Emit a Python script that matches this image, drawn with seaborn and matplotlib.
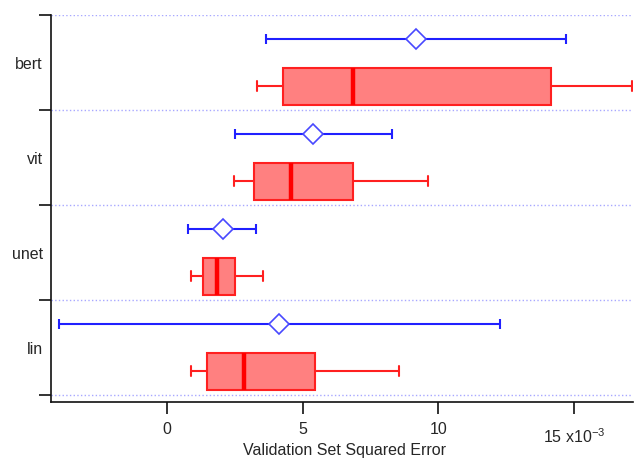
import numpy as np
import pandas as pd
import seaborn as sns
import matplotlib.pyplot as plt
import matplotlib.transforms as mtrans

# values in units of 1e-3
modelos = ["bert", "vit", "unet", "lin"]
# five number summary: whisker low, q1, median, q3, whisker high
bert_box = [3.32, 4.29, 6.87, 14.16, 17.15]
vit_box = [2.48, 3.21, 4.57, 6.87, 9.62]
unet_box = [0.88, 1.34, 1.83, 2.51, 3.55]
lin_box = [0.88, 1.49, 2.85, 5.45, 8.54]
# mean and interval (blue)
media = [9.16, 5.38, 2.05, 4.14]
int_bajo = [3.64, 2.51, 0.79, -3.99]
int_alto = [14.69, 8.28, 3.29, 12.28]
xticks = [0, 5, 10, 15]
xticklabels = ["0", "5", "10", "15 x10$^{-3}$"]

sns.set_style("ticks")
plt.rcParams['font.family'] = ['Liberation Sans', 'DejaVu Sans']
plt.rcParams['mathtext.fontset'] = 'custom'
plt.rcParams['mathtext.rm'] = 'Liberation Sans'
plt.rcParams['mathtext.it'] = 'Liberation Sans'
plt.rcParams['mathtext.default'] = 'rm'

filas = []
for i, (m, caja) in enumerate(zip(modelos, [bert_box, vit_box, unet_box, lin_box])):
    for v in caja:
        filas.append({"modelo": m, "pos": i + 0.25, "error": v})
df = pd.DataFrame(filas)

fig, ax = plt.subplots(figsize=(6.4, 4.59), dpi=100)
fig.subplots_adjust(left=0.0797, right=0.989, top=0.967, bottom=0.124)

sns.boxplot(data=df, x="error", y="pos", orient="y", native_scale=True,
            whis=(0, 100), width=0.39, saturation=1, color="#FF8080",
            linecolor="#FF2020", linewidth=1.5, capwidths=0.105,
            medianprops=dict(linewidth=3.2, color="#FF0000"), ax=ax)

pos_err = np.arange(len(modelos)) - 0.25
media = np.array(media)
xerr = [media - np.array(int_bajo), np.array(int_alto) - media]
ax.errorbar(media, pos_err, xerr=xerr, fmt="none", ecolor="#2020FF",
            elinewidth=1.5, capsize=3.3, capthick=1.5, zorder=3)
ax.plot(media, pos_err, "D", ms=10, mfc="white", mec="#4848FF", mew=1.2,
        linestyle="none", zorder=4)

ax.set_xlim(-4.27, 17.17)
ax.set_ylim(3.574, -0.5)
ax.set_xticks(xticks)
ax.set_xticklabels(xticklabels)
ax.set_yticks(np.arange(len(modelos) + 1) - 0.5)
ax.set_yticklabels([])
ax.set_yticks(np.arange(len(modelos)), minor=True)
ax.set_yticklabels(modelos, minor=True)
ax.tick_params(axis="y", which="minor", length=0, labelsize=11.5, pad=6)
ax.tick_params(axis="both", which="major", length=8.5, width=1.2,
               color="#111111", labelsize=11.5, direction="out")
ax.tick_params(axis="x", which="major", pad=6)
ax.grid(axis="y", which="major", linestyle=":", color="#A8A8FF", linewidth=1)
ax.set_ylabel("")
ax.set_xlabel("Validation Set Squared Error", fontsize=11.5)
ax.xaxis.set_label_coords(0.505, -0.106)
for lado in ["top", "right"]:
    ax.spines[lado].set_visible(False)
for lado in ["left", "bottom"]:
    ax.spines[lado].set_linewidth(1.2)
    ax.spines[lado].set_color("#111111")

# last tick label sits a bit lower in the original
etiq = ax.get_xticklabels()[-1]
etiq.set_transform(etiq.get_transform() +
                   mtrans.ScaledTranslation(0, -4 / 72, fig.dpi_scale_trans))

plt.savefig("out.png")
